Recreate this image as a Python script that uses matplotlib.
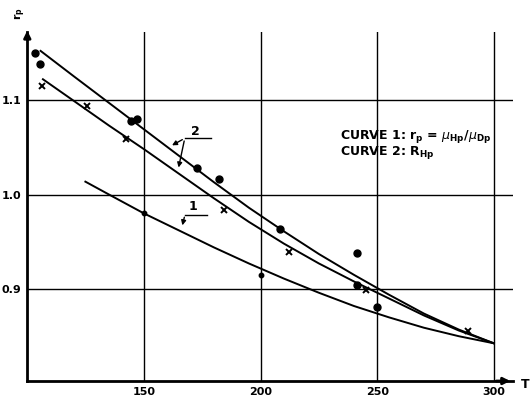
import matplotlib
matplotlib.use("Agg")
import matplotlib.pyplot as plt

# curve 2 (upper and lower line), curve 1
T_up = [105.7, 120, 135, 150, 165, 180, 195, 210, 225, 240, 255, 270, 285, 300]
r_up = [1.152, 1.125, 1.097, 1.069, 1.041, 1.013, 0.986, 0.961, 0.937, 0.915,
        0.894, 0.874, 0.857, 0.8425]
T_lo = [106.7, 120, 135, 150, 165, 180, 195, 210, 225, 240, 255, 270, 285, 300]
r_lo = [1.122, 1.099, 1.073, 1.048, 1.022, 0.996, 0.971, 0.948, 0.927, 0.908,
        0.890, 0.872, 0.856, 0.8425]
T_c1 = [124.9, 135, 150, 165, 180, 195, 210, 225, 240, 255, 270, 285, 300]
r_c1 = [1.0136, 1.0, 0.980, 0.962, 0.944, 0.927, 0.911, 0.896, 0.882, 0.870,
        0.859, 0.850, 0.8425]

# measured points
T_dot = [103.4, 105.3, 144.6, 147.1, 172.8, 182.2, 208.3, 241.5, 241.5, 250]
r_dot = [1.150, 1.1378, 1.0778, 1.080, 1.0277, 1.016, 0.963, 0.9386, 0.904, 0.881]
T_small = [150, 200]
r_small = [0.980, 0.915]
T_x = [106.3, 125.6, 142.4, 184.4, 212.1, 245.3, 289]
r_x = [1.1148, 1.0937, 1.0587, 0.9836, 0.939, 0.899, 0.8553]

xticks = [150, 200, 250, 300]
yticks = [0.9, 1.0, 1.1]

fs = 8
fig = plt.figure(figsize=(5.31, 3.99), dpi=100)
ax = fig.add_axes([0.0514, 0.0451, 0.9147, 0.8747])
ax.set_xlim(100, 308.2)
ax.set_ylim(0.8026, 1.172)

ax.plot(T_up, r_up, color="black", lw=1.4)
ax.plot(T_lo, r_lo, color="black", lw=1.4)
ax.plot(T_c1, r_c1, color="black", lw=1.4)
ax.plot(T_dot, r_dot, "o", color="black", markersize=5)
ax.plot(T_small, r_small, "o", color="black", markersize=3.2)
ax.plot(T_x, r_x, "x", color="black", markersize=5, mew=1.4)

ax.set_xticks(xticks)
ax.set_xticklabels([str(t) for t in xticks], fontsize=fs, fontweight="bold")
ax.set_yticks(yticks)
ax.set_yticklabels(["%.1f" % v for v in yticks], fontsize=fs, fontweight="bold")
ax.tick_params(length=0, pad=4)
ax.grid(True, color="black", lw=1.0)
for s in ["top", "right"]:
    ax.spines[s].set_visible(False)
for s in ["left", "bottom"]:
    ax.spines[s].set_linewidth(2)

# axis arrows
ax.annotate("", xy=(0, 1.012), xytext=(0, 0.97), xycoords="axes fraction",
            arrowprops=dict(arrowstyle="-|>", color="black", lw=2, mutation_scale=10))
ax.annotate("", xy=(1.0, 0), xytext=(0.96, 0), xycoords="axes fraction",
            arrowprops=dict(arrowstyle="-|>", color="black", lw=2, mutation_scale=10))
fig.text(525 / 531, 1 - 385 / 399, "T", fontsize=9, fontweight="bold",
         ha="center", va="center")
fig.text(20 / 531, 1 - 14 / 399, r"$\mathbf{r_p}$", fontsize=fs, rotation=90,
         ha="center", va="center")

# curve labels
ax.text(171.9, 1.067, "2", fontsize=9, fontweight="bold", ha="center", va="center")
ax.plot([167.5, 178.7], [1.0595, 1.0595], color="black", lw=1)
ax.annotate("", xy=(161.0, 1.0506), xytext=(167.5, 1.0595),
            arrowprops=dict(arrowstyle="-|>", color="black", lw=1, mutation_scale=7))
ax.annotate("", xy=(164.6, 1.0257), xytext=(167.5, 1.0595),
            arrowprops=dict(arrowstyle="-|>", color="black", lw=1, mutation_scale=7))
ax.text(171.1, 0.9876, "1", fontsize=9, fontweight="bold", ha="center", va="center")
ax.plot([167.6, 176.9], [0.9788, 0.9788], color="black", lw=1)
ax.annotate("", xy=(166.2, 0.9645), xytext=(167.6, 0.9788),
            arrowprops=dict(arrowstyle="-|>", color="black", lw=1, mutation_scale=7))

ax.text(234, 1.061, r"CURVE 1: r$_\mathbf{p}$ = $\mu_{\mathbf{Hp}}$/$\mu_{\mathbf{Dp}}$",
        fontsize=9, fontweight="bold", va="center", ha="left")
ax.text(234, 1.044, r"CURVE 2: R$_\mathbf{Hp}$",
        fontsize=9, fontweight="bold", va="center", ha="left")

fig.savefig("out.png", dpi=100)
